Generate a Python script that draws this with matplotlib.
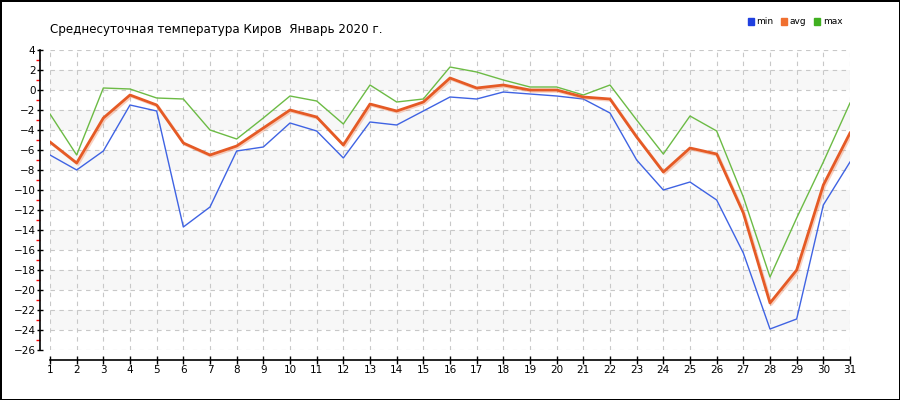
import numpy as np
import matplotlib
matplotlib.use('Agg')
import matplotlib.pyplot as plt
import matplotlib.patheffects as pe
from matplotlib.patches import Patch

days = list(range(1, 32))

t_min = [-6.5, -8.0, -6.1, -1.5, -2.1, -13.7, -11.7, -6.1, -5.7, -3.3,
         -4.1, -6.8, -3.2, -3.5, -2.1, -0.7, -0.9, -0.2, -0.4, -0.6,
         -0.9, -2.3, -7.0, -10.0, -9.2, -11.0, -16.3, -23.9, -22.9, -11.5,
         -7.2]
t_avg = [-5.2, -7.3, -2.8, -0.5, -1.5, -5.3, -6.5, -5.6, -3.8, -2.0,
         -2.7, -5.5, -1.4, -2.1, -1.2, 1.2, 0.2, 0.5, 0.0, 0.0,
         -0.7, -0.9, -4.7, -8.2, -5.8, -6.4, -12.3, -21.3, -18.0, -9.5,
         -4.3]
t_max = [-2.4, -6.5, 0.2, 0.1, -0.8, -0.9, -4.0, -4.9, -2.8, -0.6,
         -1.1, -3.4, 0.5, -1.2, -0.9, 2.3, 1.8, 1.0, 0.3, 0.3,
         -0.5, 0.5, -3.0, -6.4, -2.6, -4.1, -10.7, -18.7, -12.8, -7.2,
         -1.3]

title = 'Среднесуточная температура Киров  Январь 2020 г.'
series_names = ['min', 'avg', 'max']

c_min = '#3f63e3'
c_avg = '#e55a25'
c_max = '#6cbb45'

fig = plt.figure(figsize=(9, 4), dpi=100, facecolor='white',
                 edgecolor='black', linewidth=2)
ax = fig.add_axes([50/900, 50/400, 800/900, 300/400])

ax.set_xlim(1, 31)
ax.set_ylim(-26, 4)

# alternating light bands
for lo in range(-24, 4, 4):
    ax.axhspan(lo, lo + 2, color='#f7f7f7', zorder=0, lw=0)

ax.set_xticks(days)
ax.set_yticks(np.arange(-26, 5, 2))
ax.set_yticks(np.arange(-25, 4, 2), minor=True)
ax.grid(True, which='major', color='#c8c8c8', linestyle=(0, (4, 4)), lw=0.8, zorder=1)

ax.plot(days, t_min, color=c_min, lw=1.0, zorder=3)
ax.plot(days, t_max, color=c_max, lw=1.0, zorder=3)
ax.plot(days, t_avg, color=c_avg, lw=2.0, zorder=4,
        path_effects=[pe.SimpleLineShadow(offset=(1, -1), shadow_color='#f08a60', alpha=0.4),
                      pe.Normal()])

for s in ['top', 'right']:
    ax.spines[s].set_visible(False)
ax.spines['left'].set_position(('outward', 7))
ax.spines['bottom'].set_position(('outward', 7))
ax.spines['left'].set_linewidth(1.2)
ax.spines['bottom'].set_linewidth(1.2)
ax.spines['left'].set_bounds(-26, 4)

ax.tick_params(axis='y', which='major', direction='inout', length=5, width=1,
               labelsize=7.5, pad=1)
ax.tick_params(axis='y', which='minor', direction='out', length=3, width=1,
               color='red')
ax.tick_params(axis='x', which='major', direction='inout', length=6, width=1,
               labelsize=7.5, pad=1)

fig.text(50/900, 1 - 33/400, title, fontsize=8.6, va='baseline', ha='left')

handles = [Patch(color='#2040e0'), Patch(color='#f07030'), Patch(color='#40b020')]
fig.legend(handles, series_names, loc='center', bbox_to_anchor=(795/900, 1 - 22/400),
           ncol=3, frameon=False, fontsize=6.5, handlelength=0.7, handleheight=0.7,
           handletextpad=0.3, columnspacing=0.8, borderpad=0)

fig.savefig('out.png', dpi=100)
